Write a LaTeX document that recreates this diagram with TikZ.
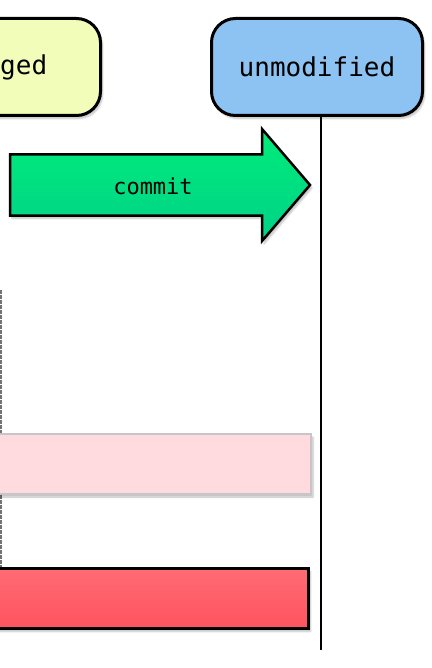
\documentclass[tikz,border=0pt]{standalone}
\usepackage{fontspec}
\setmonofont{DejaVu Sans Mono}
\usepackage{xcolor}
\usepackage{tikz}
\usetikzlibrary{shadows,shadows.blur}

\definecolor{unmodblue}{HTML}{8CC3F3}
\definecolor{stagedyellow}{HTML}{F1FDB9}
\definecolor{commitgreenA}{HTML}{00EC79}
\definecolor{commitgreenB}{HTML}{00D288}
\definecolor{palepink}{HTML}{FFDADE}
\definecolor{palegray}{HTML}{C6C6C6}
\definecolor{barredA}{HTML}{FF6B74}
\definecolor{barredB}{HTML}{FF535F}

\begin{document}
\begin{tikzpicture}[x=1pt,y=-1pt,
  softshadow/.style={blur shadow={shadow xshift=2pt,shadow yshift=-3pt,shadow blur steps=6,shadow opacity=25}},
  statefont/.style={font=\ttfamily\fontsize{26}{30}\selectfont},
  statebox/.style={draw=black,line width=3pt,rounded corners=24pt,minimum width=211pt,minimum height=97pt,inner sep=0pt,
    statefont,softshadow},
  lifeline/.style={line width=2.2pt}]
\useasboundingbox (0,0) rectangle (431,668);
\clip (0,0) rectangle (431,668);

% lifelines
\coordinate (unmodend) at (321,650);
\coordinate (stagedtop) at (1,290);
\coordinate (stagedend) at (1,575);
\draw[line width=1.2pt,black!55,dash pattern=on 4pt off 1pt](stagedtop) -- (stagedend);

% states
\node[statebox,fill=stagedyellow] (staged) at (-5,67) {};
\node[statefont,anchor=west,inner sep=0pt] (stagedlbl) at (0,67) {ged};
\node[statebox,fill=unmodblue] (unmod) at (317,67) {unmodified};
\draw[lifeline](unmod.south -| unmodend) -- (unmodend);

% commit arrow
\draw[line width=2.5pt,top color=commitgreenA,bottom color=commitgreenB,softshadow]
  (10,154.5) -- (262,154.5) -- (262,129) -- (310,185) -- (262,241) -- (262,215.5) -- (10,215.5) -- cycle;
\node[font=\ttfamily\fontsize{22}{26}\selectfont] (commit) at (153,186) {commit};

% bars
\draw[draw=palegray,line width=2.5pt,fill=palepink,softshadow](-10,434) rectangle (311,494);
\draw[line width=3pt,top color=barredA,bottom color=barredB,softshadow](-10,568.5) rectangle (308.5,628.5);
\end{tikzpicture}
\end{document}
